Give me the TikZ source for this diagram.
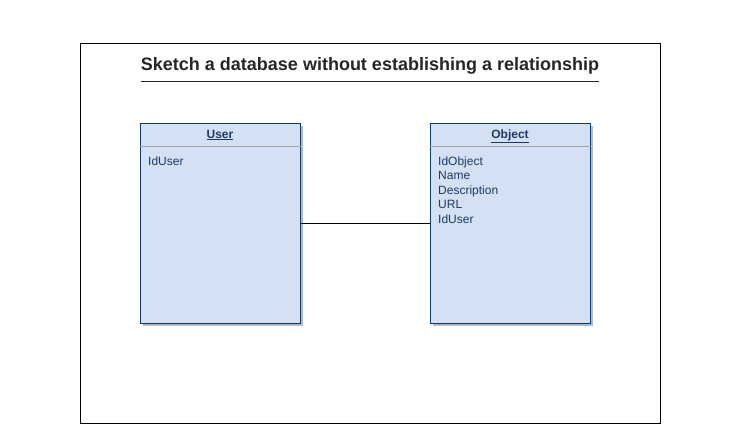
\documentclass[tikz,border=0pt]{standalone}
\usepackage{fontspec}
\setmainfont{Liberation Sans}
\definecolor{boxfill}{HTML}{D4E1F4}
\definecolor{boxline}{HTML}{0B3A72}
\definecolor{txt}{HTML}{1C3A66}
\definecolor{shade}{HTML}{B8B8B8}
\begin{document}
\begin{tikzpicture}[x=1pt,y=-1pt,
  entity/.style={draw=boxline,fill=boxfill,line width=1pt,minimum width=160pt,minimum height=200pt,inner sep=0pt},
  shadowbox/.style={fill=shade,minimum width=160pt,minimum height=200pt,inner sep=0pt},
  hdr/.style={font=\fontsize{12}{14}\selectfont\bfseries,text=txt,anchor=base},
  fld/.style={font=\fontsize{12}{14.5}\selectfont,text=txt,anchor=north west,align=left,inner sep=0pt}]
\useasboundingbox (0,0) rectangle (742,424);
\fill[white] (0,0) rectangle (742,424);
\draw[line width=1pt] (80,43) rectangle (660,423);
\node[font=\fontsize{18}{21}\selectfont\bfseries,text=black!85,anchor=base] (title) at (370,70) {Sketch a database without establishing a relationship};
\draw[line width=1pt,black!85] (141,81) -- (599,81);
% shadows
\node[shadowbox] (us) at (223,226) {};
\node[shadowbox] (os) at (513,226) {};
% entities
\node[entity] (user) at (220,223) {};
\node[entity] (obj) at (510,223) {};
\draw[line width=1pt,gray!70] ([yshift=-24]user.north west) -- ([yshift=-24]user.north east);
\draw[line width=1pt,gray!70] ([yshift=-24]obj.north west) -- ([yshift=-24]obj.north east);
\node[hdr] (uh) at (220,138) {\underline{User}};
\node[hdr] (oh) at (510,138) {\underline{Object}};
\node[fld] (uf) at (148,156.5) {IdUser};
\node[fld] (of) at (438,156.5) {IdObject\\Name\\Description\\URL\\IdUser};
\draw[line width=1pt] (user.east) -- (obj.west);
\end{tikzpicture}
\end{document}
